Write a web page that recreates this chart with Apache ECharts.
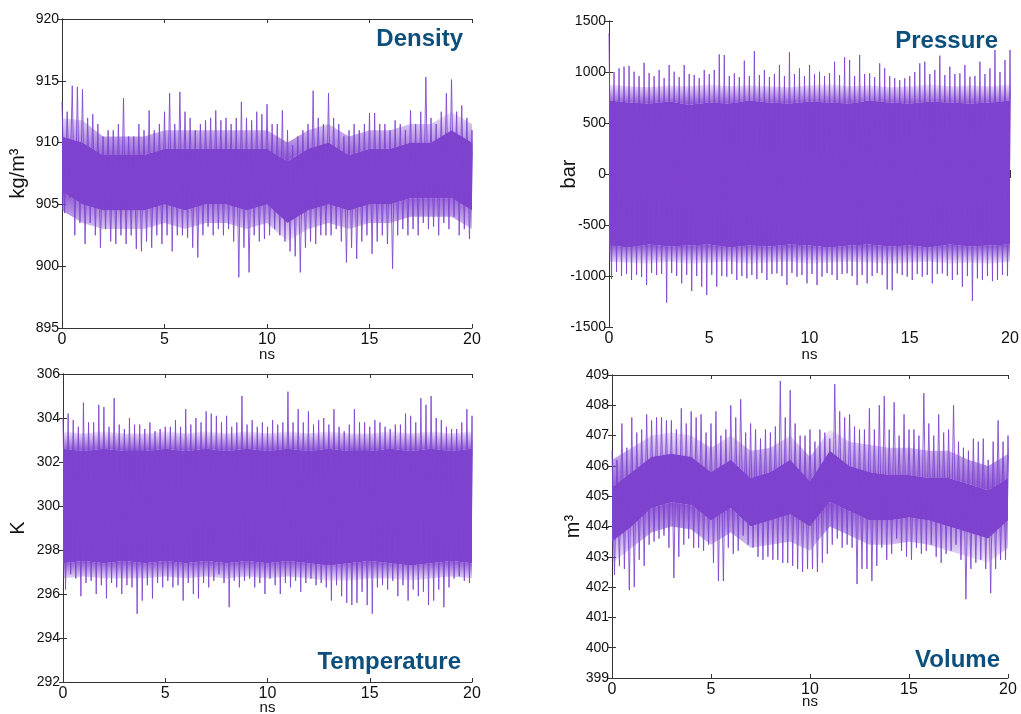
<!DOCTYPE html>
<html>
<head>
<meta charset="utf-8">
<title>Density / Pressure / Temperature / Volume</title>
<script src="https://cdn.jsdelivr.net/npm/echarts@6/dist/echarts.min.js"></script>
<style>
  html, body { margin: 0; padding: 0; background: #fff; }
  #chart { width: 1021px; height: 714px; }
</style>
</head>
<body>
<div id="chart"></div>
<script>
// sample times: spike envelope every 0.25 ns, band edges every 1 ns
const binTimes = Array.from({ length: 81 }, (_, i) => i * 0.25)
const bandTimes = Array.from({ length: 21 }, (_, i) => i)

// Density, kg/m3
const densityHi = [
  913.3, 912.5, 914.6, 914.5,  914.3, 912, 912.3, 911.5,  910.5, 911, 911, 911.5,
  913.6, 910.5, 910.5, 911.5,  911, 912.6, 911, 911.5,  912.5, 914, 911.5, 914.1,
  912.5, 912, 911, 911.5,  911.8, 912, 912.6, 911.8,  912, 911.5, 912, 913.3,
  912, 911.8, 912.5, 912.3,  913.1, 911.5, 911.5, 912.6,  911, 909.8, 910.5, 911,
  911.5, 914.2, 912, 911.5,  914, 912, 911.5, 910.5,  911, 911.5, 911, 911.5,
  912.4, 912.4, 911.5, 911.5,  911, 911.8, 911.5, 911,  912.6, 911.5, 912.5, 915.3,
  912, 911.5, 912.5, 914,  915.1, 912.5, 913, 912,  911
]
const densityLo = [
  904.3, 905.5, 902.5, 903.5,  901.8, 903.5, 902.5, 901.5,  903, 902, 901.8, 902.5,
  901.8, 902.5, 901.4, 901.2,  902, 901.5, 902.5, 901.8,  902.5, 901.2, 902.5, 902.5,
  902.3, 901.5, 900.7, 902.5,  903.2, 902.5, 903, 902.5,  903, 902, 899.1, 901.5,
  899.5, 902.5, 902, 902.2,  902.5, 903, 902.5, 902,  901.2, 900.8, 899.5, 901.5,
  902, 901.8, 902.5, 902.5,  902.5, 903, 902, 900.3,  901.5, 900.6, 902, 902.5,
  901, 902, 902.5, 901.8,  899.8, 902.5, 903, 902.5,  903, 902.5, 903.5, 903,
  903.2, 902.5, 903.5, 903,  904, 902.5, 903, 902.2,  901.6
]
const densityCoreHi = [910.5, 910, 909, 909, 909, 909.5, 909.5, 909.5, 909.5, 909.5, 909.5,
  908.5, 909.5, 910, 909, 909.5, 909.5, 910, 910, 911, 910]
const densityCoreLo = [906, 905, 904.5, 904.5, 904.5, 905, 904.5, 905, 905, 904.5, 905,
  903.5, 904.5, 905, 904.5, 905, 905, 905.5, 905.5, 905.5, 904.5]
const densityFringeHi = [912, 911.8, 910.5, 910.5, 910.5, 911, 911, 911, 911, 911, 911,
  910, 911, 911.5, 910.5, 911, 911, 911.5, 911.5, 912.5, 911.5]
const densityFringeLo = [904.5, 903.5, 903, 903, 903, 903.5, 903, 903.5, 903.5, 903, 903.5,
  902, 903, 903.5, 903, 903.5, 903.5, 904, 904, 904, 903]

// Pressure, bar
const pressureHi = [
  1380, 1000, 1036, 1052,  1060, 1003, 960, 1090,  990, 960, 1020, 940,
  1069, 1003, 950, 1069,  980, 971, 940, 1020,  980, 1020, 1173, 1167,
  960, 987, 950, 1111,  960, 1206, 970, 1020,  950, 980, 1069, 960,
  1193, 980, 1036, 960,  1069, 980, 1003, 960,  990, 1101, 970, 1144,
  1118, 960, 1167, 980,  987, 950, 1085, 1036,  960, 940, 920, 938,
  960, 1000, 1085, 1101,  980, 1020, 1160, 970,  1052, 980, 987, 1069,
  954, 960, 1101, 980,  1036, 1216, 1000, 1118,  1216
]
const pressureLo = [
  -1029, -960, -1000, -980,  -1039, -990, -1010, -1088,  -970, -990, -980, -1261,
  -970, -1000, -1072, -990,  -1147, -1000, -1105, -1186,  -990, -1105, -1000, -1007,
  -980, -1039, -1000, -1023,  -990, -1030, -970, -1039,  -980, -974, -1000, -1088,
  -970, -1007, -990, -1072,  -980, -1088, -1007, -970,  -990, -1039, -980, -974,
  -1000, -1088, -990, -1072,  -1000, -970, -990, -1131,  -1140, -974, -990, -1007,
  -1039, -980, -1007, -990,  -1072, -980, -974, -1000,  -1039, -990, -1105, -1000,
  -1245, -1023, -1039, -1000,  -1050, -1039, -990, -1000,  -925
]
const pressureCoreHi = [720, 700, 690, 710, 680, 700, 690, 720, 700, 690, 710,
  700, 690, 720, 700, 690, 710, 700, 690, 700, 720]
const pressureCoreLo = [-700, -720, -690, -710, -700, -690, -720, -700, -710, -690, -700,
  -720, -700, -690, -710, -700, -720, -690, -710, -700, -690]
const pressureFringeHi = [880, 860, 850, 870, 860, 880, 860, 870, 860, 850, 870,
  880, 860, 870, 850, 860, 880, 860, 870, 860, 880]
const pressureFringeLo = [-860, -870, -880, -860, -880, -870, -860, -880, -870, -860, -880,
  -870, -860, -870, -880, -870, -860, -880, -870, -880, -860]

// Temperature, K
const temperatureHi = [
  304.0, 304.2, 303.9, 303.6,  304.7, 303.8, 303.8, 304.6,  304.5, 303.6, 304.9, 303.7,
  303.5, 304.0, 303.7, 303.7,  303.5, 303.8, 303.4, 303.5,  303.6, 303.6, 303.9, 303.6,
  304.4, 303.7, 304.0, 303.8,  304.3, 304.2, 304.1, 303.8,  304.1, 303.6, 303.8, 305.0,
  303.7, 303.9, 303.6, 303.8,  303.6, 303.9, 303.7, 303.8,  305.2, 303.8, 304.4, 303.8,
  304.3, 303.7, 303.9, 304.0,  303.7, 304.4, 303.6, 303.4,  303.7, 304.4, 303.8, 303.8,
  303.6, 303.9, 303.8, 303.6,  303.5, 303.7, 303.7, 304.2,  304.1, 303.8, 304.9, 304.6,
  305.0, 304.0, 303.9, 303.6,  303.5, 303.5, 303.8, 304.4,  304.1
]
const temperatureLo = [
  296.2, 296.9, 296.7, 295.9,  296.5, 296.6, 296.0, 296.4,  295.8, 296.5, 296.3, 296.0,
  296.4, 296.3, 295.1, 295.7,  296.4, 295.8, 296.5, 296.3,  296.6, 296.3, 296.4, 295.7,
  296.5, 296.0, 295.8, 296.5,  296.3, 296.6, 296.9, 296.5,  295.4, 296.6, 296.3, 296.6,
  296.7, 296.3, 296.5, 296.0,  296.7, 296.4, 296.0, 296.5,  296.3, 296.6, 296.1, 296.5,
  296.7, 296.4, 296.5, 296.3,  295.7, 296.4, 295.9, 295.6,  295.5, 295.6, 296.1, 295.5,
  295.1, 296.3, 296.4, 296.2,  296.6, 295.9, 296.4, 295.7,  296.2, 295.9, 296.1, 295.5,
  295.7, 296.2, 295.4, 296.3,  296.7, 296.8, 296.6, 296.5,  296.2
]
const temperatureCoreHi = [302.6, 302.5, 302.6, 302.5, 302.5, 302.6, 302.5, 302.6, 302.5, 302.6, 302.5,
  302.6, 302.5, 302.6, 302.5, 302.5, 302.6, 302.5, 302.6, 302.5, 302.6]
const temperatureCoreLo = [297.4, 297.5, 297.4, 297.5, 297.4, 297.5, 297.4, 297.5, 297.4, 297.5, 297.4,
  297.5, 297.4, 297.3, 297.4, 297.5, 297.4, 297.3, 297.4, 297.5, 297.4]
const temperatureFringeHi = [303.4, 303.3, 303.4, 303.3, 303.3, 303.4, 303.3, 303.4, 303.3, 303.4, 303.3,
  303.4, 303.3, 303.4, 303.3, 303.3, 303.4, 303.3, 303.4, 303.3, 303.4]
const temperatureFringeLo = [296.7, 296.8, 296.7, 296.7, 296.7, 296.8, 296.7, 296.8, 296.7, 296.8, 296.7,
  296.8, 296.7, 296.6, 296.6, 296.7, 296.7, 296.6, 296.7, 296.8, 296.7]

// Volume, m3
const volumeHi = [
  406.5, 406.2, 407.4, 406.6,  407.6, 407.1, 407.2, 407.7,  407.5, 407.6, 407.6, 407.5,
  407.5, 407.2, 407.9, 407.4,  407.8, 407.6, 407.7, 407.1,  407.4, 407.8, 407.0, 407.2,
  408.0, 407.6, 408.2, 407.1,  407.4, 407.2, 406.9, 407.2,  407.1, 407.3, 408.8, 407.6,
  408.5, 407.4, 407.0, 407.0,  407.2, 406.8, 407.2, 407.1,  406.9, 408.7, 407.8, 407.6,
  407.7, 407.3, 407.2, 407.2,  407.9, 407.2, 408.0, 408.3,  407.2, 408.1, 407.0, 407.7,
  407.2, 407.2, 407.0, 408.4,  407.4, 407.0, 407.7, 407.1,  407.2, 408.0, 406.8, 406.6,
  406.5, 406.9, 406.8, 406.9,  406.2, 406.8, 407.5, 406.8,  407.0
]
const volumeLo = [
  402.4, 402.7, 402.6, 401.9,  402.0, 402.9, 402.7, 403.4,  403.5, 403.6, 403.7, 403.3,
  402.3, 403.0, 403.4, 403.6,  403.3, 403.3, 403.2, 403.4,  402.8, 402.2, 402.2, 403.3,
  403.1, 403.2, 403.7, 403.4,  403.3, 403.0, 402.9, 403.0,  402.9, 402.9, 402.8, 402.8,
  402.7, 402.6, 402.5, 402.6,  402.6, 402.5, 402.8, 403.1,  403.4, 403.6, 403.3, 403.4,
  403.3, 402.1, 402.6, 402.6,  402.2, 402.7, 403.3, 402.9,  403.1, 403.6, 403.2, 403.0,
  402.9, 403.3, 403.1, 403.2,  403.4, 403.0, 402.8, 403.1,  403.2, 403.4, 402.9, 401.6,
  402.6, 402.8, 402.9, 402.6,  401.8, 402.6, 402.9, 402.9,  403.4
]
const volumeCoreHi = [405.3, 405.8, 406.3, 406.4, 406.3, 405.8, 406.2, 405.6, 405.8, 406.2, 405.5,
  406.5, 406, 405.8, 405.7, 405.7, 405.6, 405.6, 405.4, 405.2, 405.6]
const volumeCoreLo = [403.5, 404, 404.6, 404.8, 404.7, 404.2, 404.6, 404, 404.2, 404.4, 404,
  404.8, 404.5, 404.2, 404.2, 404.3, 404.2, 404, 403.8, 403.6, 404.2]
const volumeFringeHi = [406.2, 406.6, 407, 407.1, 407, 406.6, 407, 406.5, 406.6, 407, 406.3,
  407.2, 406.8, 406.7, 406.6, 406.6, 406.5, 406.5, 406.2, 406, 406.4]
const volumeFringeLo = [402.8, 403.3, 403.8, 404, 403.9, 403.4, 403.8, 403.3, 403.4, 403.5, 403.2,
  404, 403.7, 403.4, 403.4, 403.5, 403.4, 403.2, 403, 402.8, 403.3]

const PURPLE = '#7e43cf'
const AXIS = '#333'
const FONT = '"Liberation Sans", Arial, Helvetica, sans-serif'

const panels = [
  { name: 'Density', unit: 'kg/m³', hi: densityHi, lo: densityLo,
    coreHi: densityCoreHi, coreLo: densityCoreLo, fringeHi: densityFringeHi, fringeLo: densityFringeLo,
    min: 895, max: 920, step: 5,
    grid: { left: 62, top: 19, width: 410, height: 309 }, yGap: 34, xGap: 19, title: [463, 39.5] },
  { name: 'Pressure', unit: 'bar', hi: pressureHi, lo: pressureLo,
    coreHi: pressureCoreHi, coreLo: pressureCoreLo, fringeHi: pressureFringeHi, fringeLo: pressureFringeLo,
    min: -1500, max: 1500, step: 500,
    grid: { left: 609, top: 21, width: 401, height: 306 }, yGap: 30, xGap: 20, title: [998, 41] },
  { name: 'Temperature', unit: 'K', hi: temperatureHi, lo: temperatureLo,
    coreHi: temperatureCoreHi, coreLo: temperatureCoreLo, fringeHi: temperatureFringeHi, fringeLo: temperatureFringeLo,
    min: 292, max: 306, step: 2,
    grid: { left: 63, top: 374, width: 409, height: 308 }, yGap: 35, xGap: 18, title: [461, 662] },
  { name: 'Volume', unit: 'm³', hi: volumeHi, lo: volumeLo,
    coreHi: volumeCoreHi, coreLo: volumeCoreLo, fringeHi: volumeFringeHi, fringeLo: volumeFringeLo,
    min: 399, max: 409, step: 1,
    grid: { left: 612, top: 375, width: 396, height: 303 }, yGap: 29, xGap: 16, title: [1000, 660.5] }
]

// hi and lo of each bin joined into one up-down trace
function zigzag(hi, lo) {
  const pts = []
  binTimes.forEach((t, i) => {
    pts.push([t, hi[i]])
    pts.push([t + 0.125, lo[i]])
  })
  return pts
}

function fade(strongAtTop) {
  const strong = 'rgba(126,67,207,0.9)', weak = 'rgba(126,67,207,0.12)'
  return {
    type: 'linear', x: 0, y: 0, x2: 0, y2: 1,
    colorStops: [
      { offset: 0, color: strongAtTop ? strong : weak },
      { offset: 1, color: strongAtTop ? weak : strong }
    ]
  }
}

// filled region between lo and hi, drawn once as a polygon through the axis scales
function band(k, hi, lo, fill) {
  return {
    type: 'custom', xAxisIndex: 2 * k, yAxisIndex: 2 * k, silent: true, clip: true,
    data: bandTimes.map((t, i) => [t, lo[i], hi[i]]),
    encode: { x: 0, y: [1, 2] },
    renderItem: (params, api) => {
      if (params.dataIndex !== 0) return null
      const top = bandTimes.map((t, i) => api.coord([t, hi[i]]))
      const bottom = bandTimes.map((t, i) => api.coord([t, lo[i]])).reverse()
      return {
        type: 'polygon',
        shape: { points: top.concat(bottom) },
        style: { fill: fill }
      }
    }
  }
}

const grids = [], xAxes = [], yAxes = [], series = [], graphic = []

panels.forEach((p, k) => {
  grids.push(Object.assign({ containLabel: false, outerBoundsMode: 'none' }, p.grid))

  const frame = { show: true, lineStyle: { color: AXIS, width: 1 } }
  const tick = { show: true, inside: true, length: 4, lineStyle: { color: AXIS } }
  const plain = v => String(v)

  xAxes.push({
    type: 'value', gridIndex: k, position: 'bottom', min: 0, max: 20, interval: 5,
    axisLine: frame, axisTick: tick, splitLine: { show: false },
    axisLabel: { fontSize: 16, color: '#111', fontFamily: FONT, margin: 4, formatter: plain },
    name: 'ns', nameLocation: 'middle', nameGap: p.xGap, nameMoveOverlap: false,
    nameTextStyle: { fontSize: 15, color: '#111', fontFamily: FONT }
  })
  xAxes.push({
    type: 'value', gridIndex: k, position: 'top', min: 0, max: 20, interval: 5,
    axisLine: frame, axisTick: tick, splitLine: { show: false }, axisLabel: { show: false }
  })
  yAxes.push({
    type: 'value', gridIndex: k, position: 'left', min: p.min, max: p.max, interval: p.step,
    axisLine: frame, axisTick: tick, splitLine: { show: false },
    axisLabel: { fontSize: 14, color: '#111', fontFamily: FONT, margin: 3, formatter: plain },
    name: p.unit, nameLocation: 'middle', nameGap: p.yGap, nameRotate: 90, nameMoveOverlap: false,
    nameTextStyle: { fontSize: 20, color: '#111', fontFamily: FONT }
  })
  yAxes.push({
    type: 'value', gridIndex: k, position: 'right', min: p.min, max: p.max, interval: p.step,
    axisLine: frame, axisTick: tick, splitLine: { show: false }, axisLabel: { show: false }
  })

  // thinning noise above and below the solid core, then the core, then the spike trace
  series.push(band(k, p.fringeHi, p.coreHi, fade(false)))
  series.push(band(k, p.coreLo, p.fringeLo, fade(true)))
  series.push(band(k, p.coreHi, p.coreLo, PURPLE))
  series.push({
    type: 'line', xAxisIndex: 2 * k, yAxisIndex: 2 * k, symbol: 'none', silent: true,
    data: zigzag(p.hi, p.lo),
    lineStyle: { color: PURPLE, width: 1, opacity: 0.85 }
  })

  graphic.push({
    type: 'text', x: p.title[0], y: p.title[1], z: 100,
    style: {
      text: p.name, fill: '#0d4f7c', fontSize: 24, fontWeight: 'bold', fontFamily: FONT,
      align: 'right', verticalAlign: 'middle'
    }
  })
})

const chart = echarts.init(document.getElementById('chart'), null, { renderer: 'canvas' })
chart.setOption({
  backgroundColor: '#fff',
  animation: false,
  grid: grids,
  xAxis: xAxes,
  yAxis: yAxes,
  series: series,
  graphic: graphic
})
</script>
</body>
</html>
